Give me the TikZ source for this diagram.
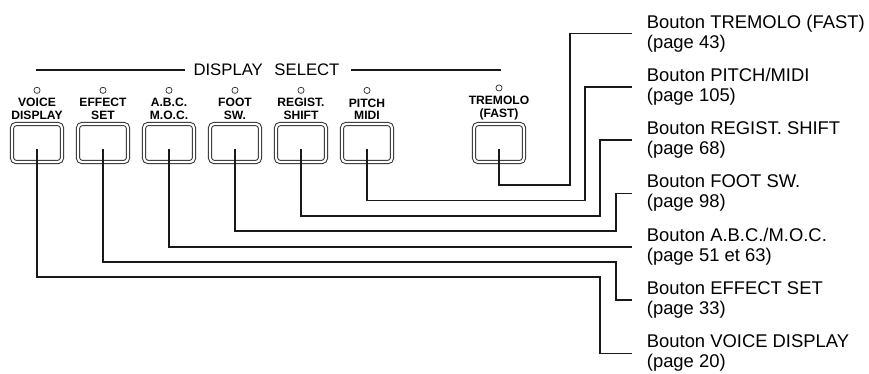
\documentclass[tikz,border=0pt]{standalone}
\usepackage{fontspec}
\setmainfont{Liberation Sans}
\usetikzlibrary{positioning,calc}
\tikzset{
  btn/.style={draw=black!85, double=white, double distance=2.2pt, line width=0.95pt,
    rounded corners=4pt, minimum width=50pt, minimum height=38pt, inner sep=0pt},
  btntext/.style={font=\fontsize{12.1}{12.8}\selectfont\bfseries, align=center, inner sep=0pt},
  led/.style={circle, draw=black!85, line width=0.7pt, minimum size=6.2pt, inner sep=0pt},
  lbl/.style={font=\fontsize{18.4}{20}\selectfont, align=left, anchor=west, inner sep=0pt},
  hdr/.style={font=\fontsize{16.7}{18}\selectfont, inner sep=0pt},
  link/.style={draw=black!90, line width=1.6pt},
  rule/.style={draw=black!90, line width=1.6pt}
}

\begin{document}
\begin{tikzpicture}[x=1pt,y=-1pt]
  \useasboundingbox (0,0) rectangle (869,373);
  % panel buttons
  \foreach \n/\x/\a/\b in {voice/37/VOICE/DISPLAY, effect/103/EFFECT/SET, abc/169/A.B.C./M.O.C.,
      foot/235/FOOT/SW., regist/301/REGIST./SHIFT, pitch/367/PITCH/MIDI, trem/499/TREMOLO/(FAST)}{
    \node[btn] (\n) at (\x,143) {};
    \node[btntext, above=3.5pt of \n] (\n-txt) {\a\\\b};
    \node[led, above=4.5pt of \n-txt] (\n-led) {};
  }
  % header
  \node[hdr] (sel) at (266.5,70) {DISPLAY\hspace{7pt} SELECT};
  \coordinate (hl) at (36,70);
  \coordinate (hr) at (500.7,70);
  \draw[rule] (hl) -- ([xshift=-8pt]sel.west);
  \draw[rule] ([xshift=11pt]sel.east) -- (hr);
  % right hand labels
  \foreach \n/\y/\t/\p in {trem/33.3/{Bouton TREMOLO (FAST)}/{(page 43)},
      pitch/86.7/{Bouton PITCH/MIDI}/{(page 105)}, regist/140/{Bouton REGIST. SHIFT}/{(page 68)},
      foot/193.3/{Bouton FOOT SW.}/{(page 98)}, abc/246.7/{Bouton A.B.C./M.O.C.}/{(page 51 et 63)},
      effect/300/{Bouton EFFECT SET}/{(page 33)}, voice/353.3/{Bouton VOICE DISPLAY}/{(page 20)}}
    \node[lbl] (l-\n) at (646.7,\y) {\t\\\p};
  % connectors
  \foreach \n/\hy/\cx in {trem/185/570, pitch/200.3/585, regist/215.7/600, foot/231/616,
      abc/246.7/620, effect/261.7/616, voice/277/600}
    \draw[link] ([yshift=-6pt]\n.center) |- (\cx,\hy) |- ([xshift=-15pt]l-\n.west);
\end{tikzpicture}
\end{document}
